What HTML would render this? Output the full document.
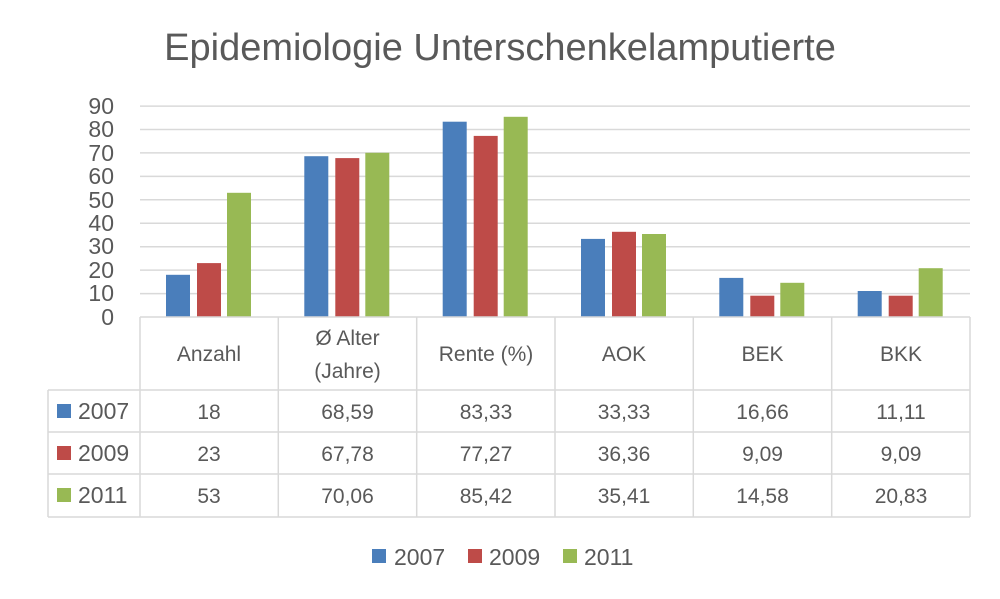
<!DOCTYPE html>
<html><head><meta charset="utf-8"><style>
body{margin:0;background:#fff}
svg text{font-family:"Liberation Sans",sans-serif;fill:#595959}
</style></head><body>
<svg width="1000" height="594" viewBox="0 0 1000 594" xmlns="http://www.w3.org/2000/svg">
<text x="500" y="60" text-anchor="middle" font-size="38">Epidemiologie Unterschenkelamputierte</text>
<g stroke="#d9d9d9" stroke-width="1.5">
<line x1="140" y1="106.1" x2="970" y2="106.1"/>
<line x1="140" y1="129.5" x2="970" y2="129.5"/>
<line x1="140" y1="152.9" x2="970" y2="152.9"/>
<line x1="140" y1="176.4" x2="970" y2="176.4"/>
<line x1="140" y1="199.8" x2="970" y2="199.8"/>
<line x1="140" y1="223.2" x2="970" y2="223.2"/>
<line x1="140" y1="246.7" x2="970" y2="246.7"/>
<line x1="140" y1="270.1" x2="970" y2="270.1"/>
<line x1="140" y1="293.6" x2="970" y2="293.6"/>
</g>
<g font-size="23" text-anchor="end">
<text x="114" y="114">90</text><text x="114" y="137">80</text><text x="114" y="161">70</text>
<text x="114" y="184">60</text><text x="114" y="208">50</text><text x="114" y="231">40</text>
<text x="114" y="254">30</text><text x="114" y="278">20</text><text x="114" y="301">10</text>
<text x="114" y="325">0</text>
</g>
<g>
<rect x="166" y="274.8" width="24" height="42.2" fill="#4a7ebb"/>
<rect x="197" y="263.1" width="24" height="53.9" fill="#be4b48"/>
<rect x="227" y="192.8" width="24" height="124.2" fill="#98b954"/>
<rect x="304.3" y="156.2" width="24" height="160.8" fill="#4a7ebb"/>
<rect x="335.3" y="158.1" width="24" height="158.9" fill="#be4b48"/>
<rect x="365.3" y="152.8" width="24" height="164.2" fill="#98b954"/>
<rect x="442.7" y="121.7" width="24" height="195.3" fill="#4a7ebb"/>
<rect x="473.7" y="135.9" width="24" height="181.1" fill="#be4b48"/>
<rect x="503.7" y="116.8" width="24" height="200.2" fill="#98b954"/>
<rect x="581" y="238.9" width="24" height="78.1" fill="#4a7ebb"/>
<rect x="612" y="231.8" width="24" height="85.2" fill="#be4b48"/>
<rect x="642" y="234" width="24" height="83" fill="#98b954"/>
<rect x="719.3" y="277.9" width="24" height="39.1" fill="#4a7ebb"/>
<rect x="750.3" y="295.7" width="24" height="21.3" fill="#be4b48"/>
<rect x="780.3" y="282.8" width="24" height="34.2" fill="#98b954"/>
<rect x="857.7" y="291" width="24" height="26" fill="#4a7ebb"/>
<rect x="888.7" y="295.7" width="24" height="21.3" fill="#be4b48"/>
<rect x="918.7" y="268.2" width="24" height="48.8" fill="#98b954"/>
</g>
<g stroke="#d9d9d9" stroke-width="1.5" fill="none">
<line x1="140" y1="317" x2="970" y2="317"/>
<line x1="48" y1="390" x2="970" y2="390"/>
<line x1="48" y1="432" x2="970" y2="432"/>
<line x1="48" y1="474" x2="970" y2="474"/>
<line x1="48" y1="517" x2="970" y2="517"/>
<line x1="48" y1="390" x2="48" y2="517"/>
<line x1="140" y1="317" x2="140" y2="517"/>
<line x1="278.3" y1="317" x2="278.3" y2="517"/>
<line x1="416.7" y1="317" x2="416.7" y2="517"/>
<line x1="555" y1="317" x2="555" y2="517"/>
<line x1="693.3" y1="317" x2="693.3" y2="517"/>
<line x1="831.7" y1="317" x2="831.7" y2="517"/>
<line x1="970" y1="317" x2="970" y2="517"/>
</g>
<g font-size="21" text-anchor="middle">
<text x="209" y="361">Anzahl</text>
<text x="347.5" y="345">Ø Alter</text><text x="347.5" y="378">(Jahre)</text>
<text x="486" y="361">Rente (%)</text>
<text x="624" y="361">AOK</text>
<text x="762.5" y="361">BEK</text>
<text x="901" y="361">BKK</text>
<text x="209" y="419">18</text><text x="347.5" y="419">68,59</text><text x="486" y="419">83,33</text><text x="624" y="419">33,33</text><text x="762.5" y="419">16,66</text><text x="901" y="419">11,11</text>
<text x="209" y="461">23</text><text x="347.5" y="461">67,78</text><text x="486" y="461">77,27</text><text x="624" y="461">36,36</text><text x="762.5" y="461">9,09</text><text x="901" y="461">9,09</text>
<text x="209" y="503">53</text><text x="347.5" y="503">70,06</text><text x="486" y="503">85,42</text><text x="624" y="503">35,41</text><text x="762.5" y="503">14,58</text><text x="901" y="503">20,83</text>
</g>
<g font-size="23">
<rect x="57" y="404" width="14" height="14" fill="#4a7ebb"/><text x="78" y="419">2007</text>
<rect x="57" y="446" width="14" height="14" fill="#be4b48"/><text x="78" y="461">2009</text>
<rect x="57" y="488" width="14" height="14" fill="#98b954"/><text x="78" y="503">2011</text>
<rect x="372" y="549" width="14" height="14" fill="#4a7ebb"/><text x="394" y="565">2007</text>
<rect x="468" y="549" width="14" height="14" fill="#be4b48"/><text x="489" y="565">2009</text>
<rect x="563" y="549" width="14" height="14" fill="#98b954"/><text x="584" y="565">2011</text>
</g>
</svg>
</body></html>
